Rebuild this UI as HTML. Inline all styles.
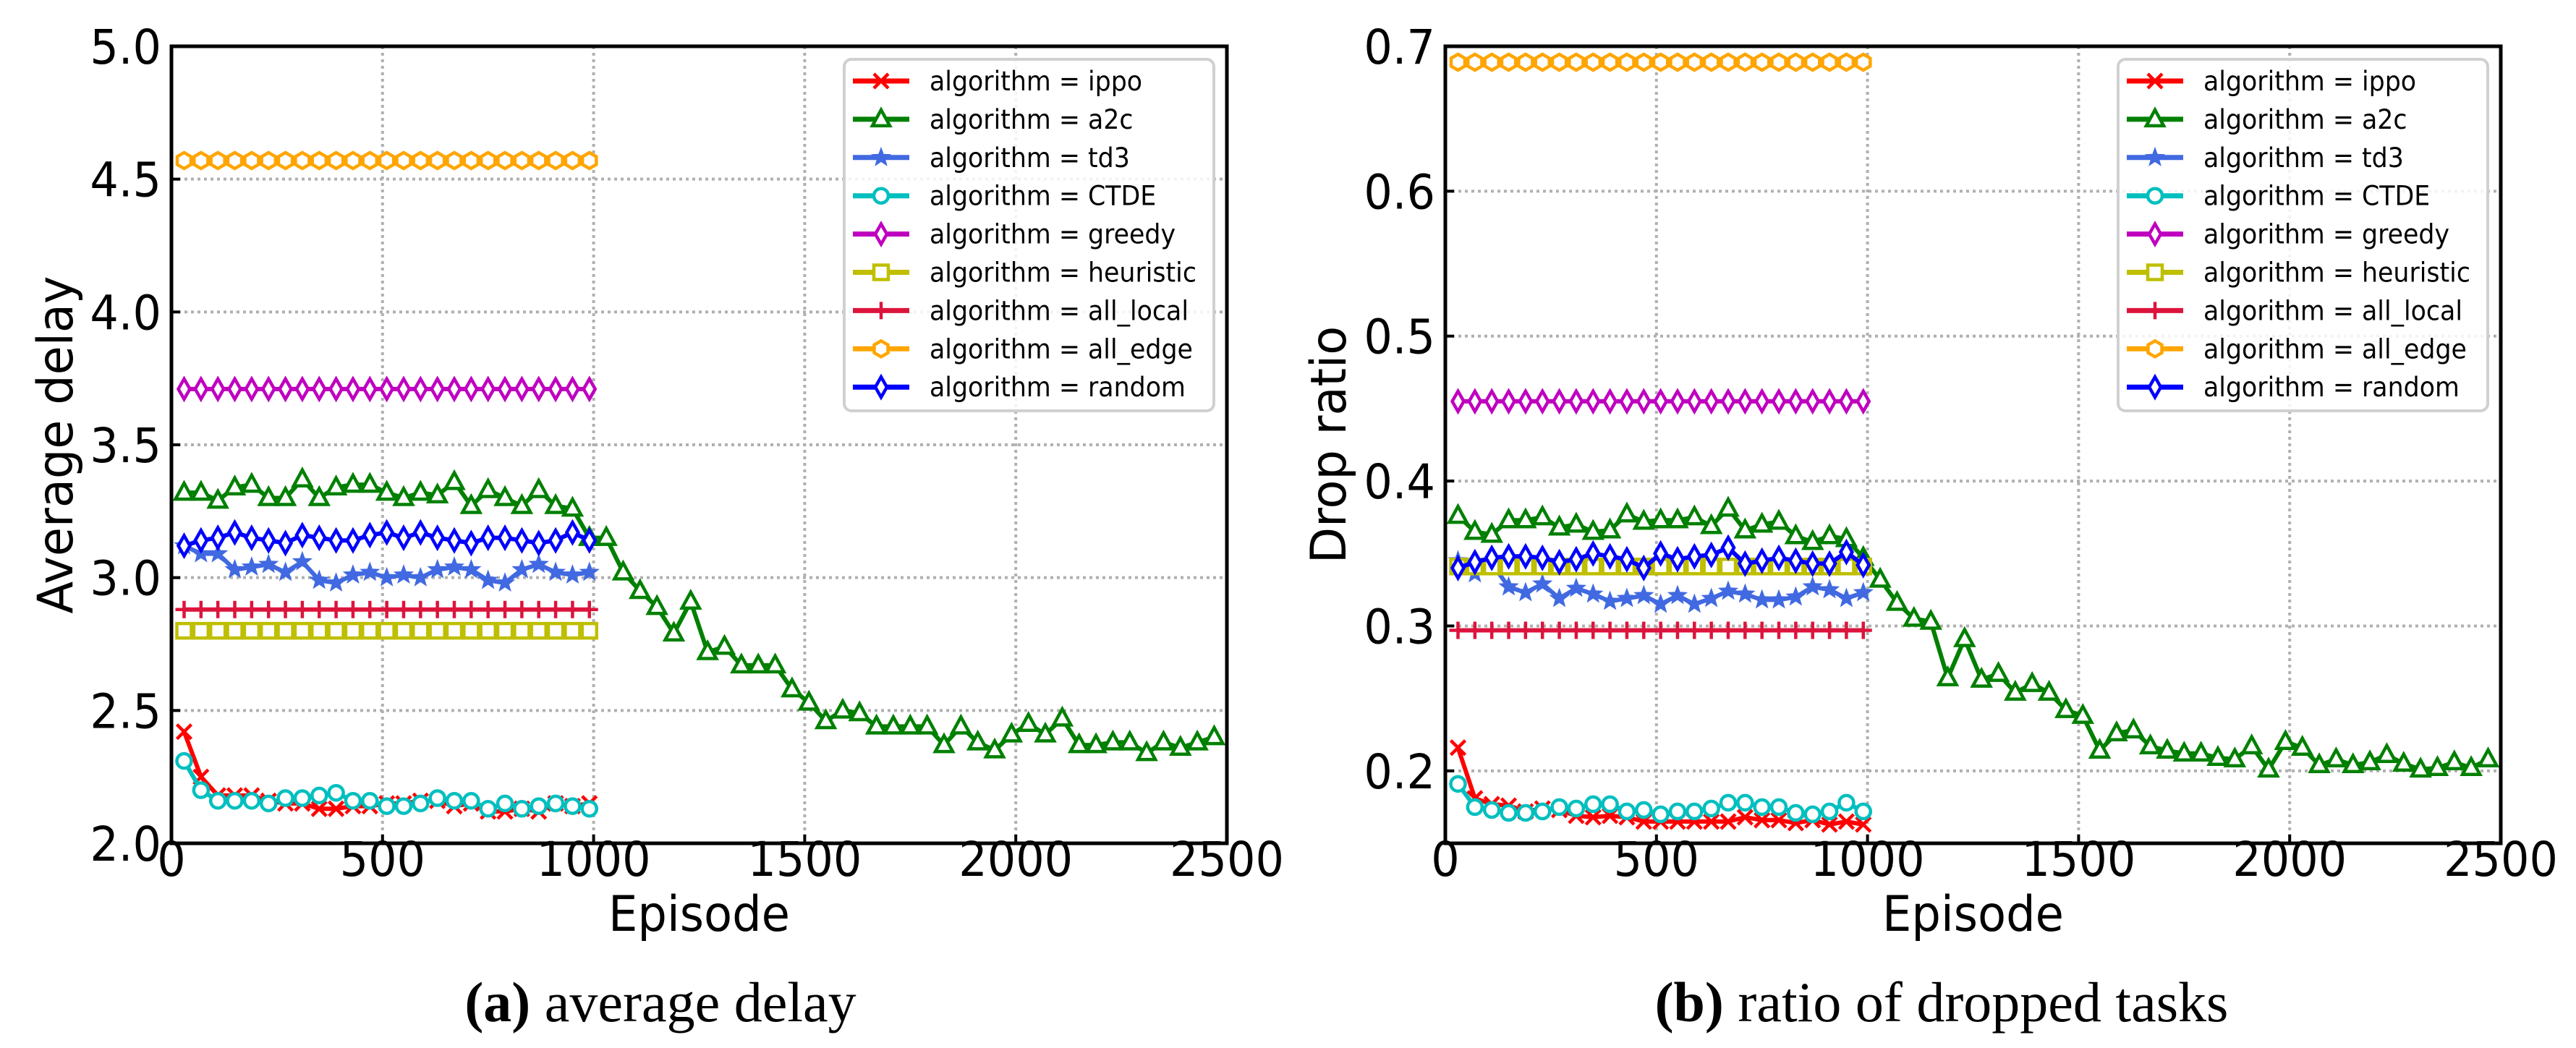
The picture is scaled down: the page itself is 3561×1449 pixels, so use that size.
<!DOCTYPE html>
<html><head><meta charset="utf-8">
<style>
html,body{margin:0;padding:0;background:#fff;}
svg{display:block;}
</style></head>
<body>
<svg id="fig" xmlns="http://www.w3.org/2000/svg" width="3561" height="1449" viewBox="0 0 3561 1449">
<rect x="0" y="0" width="3561" height="1449" fill="#fff"/>
<text x="913" y="1412" text-anchor="middle" font-family="Liberation Serif, serif" font-size="78"><tspan font-weight="bold">(a)</tspan> average delay</text>
<text x="2684" y="1412" text-anchor="middle" font-family="Liberation Serif, serif" font-size="78"><tspan font-weight="bold">(b)</tspan> ratio of dropped tasks</text>
</svg>
<script>
const episodesLong = [30,70,110,150,190,230,270,310,350,390,430,470,510,550,590,630,670,710,750,790,830,870,910,950,990,1030,1070,1110,1150,1190,1230,1270,1310,1350,1390,1430,1470,1510,1550,1590,1630,1670,1710,1750,1790,1830,1870,1910,1950,1990,2030,2070,2110,2150,2190,2230,2270,2310,2350,2390,2430,2470];
const episodesShort = [30,70,110,150,190,230,270,310,350,390,430,470,510,550,590,630,670,710,750,790,830,870,910,950,990];
const seriesNames = ['ippo','a2c','td3','CTDE','greedy','heuristic','all_local','all_edge','random'];

const delayIppo = [2.42,2.25,2.18,2.18,2.18,2.16,2.15,2.15,2.13,2.13,2.14,2.14,2.15,2.15,2.16,2.16,2.14,2.15,2.12,2.12,2.13,2.12,2.15,2.14,2.15];
const delayA2c = [3.32,3.32,3.29,3.34,3.35,3.30,3.30,3.37,3.30,3.34,3.35,3.35,3.32,3.30,3.32,3.31,3.36,3.27,3.33,3.30,3.27,3.33,3.27,3.26,3.15,3.15,3.02,2.95,2.89,2.79,2.91,2.72,2.74,2.67,2.67,2.67,2.58,2.53,2.46,2.50,2.49,2.44,2.44,2.44,2.44,2.37,2.44,2.38,2.35,2.41,2.45,2.41,2.47,2.37,2.37,2.38,2.38,2.34,2.38,2.36,2.38,2.40];
const delayTd3 = [3.12,3.09,3.09,3.03,3.04,3.05,3.02,3.06,2.99,2.98,3.01,3.02,3.00,3.01,3.00,3.03,3.04,3.03,2.99,2.98,3.03,3.05,3.02,3.01,3.02];
const delayCtde = [2.31,2.20,2.16,2.16,2.16,2.15,2.17,2.17,2.18,2.19,2.16,2.16,2.14,2.14,2.15,2.17,2.16,2.16,2.13,2.15,2.13,2.14,2.15,2.14,2.13];
const delayGreedy = [3.71,3.71,3.71,3.71,3.71,3.71,3.71,3.71,3.71,3.71,3.71,3.71,3.71,3.71,3.71,3.71,3.71,3.71,3.71,3.71,3.71,3.71,3.71,3.71,3.71];
const delayHeuristic = [2.80,2.80,2.80,2.80,2.80,2.80,2.80,2.80,2.80,2.80,2.80,2.80,2.80,2.80,2.80,2.80,2.80,2.80,2.80,2.80,2.80,2.80,2.80,2.80,2.80];
const delayLocal = [2.88,2.88,2.88,2.88,2.88,2.88,2.88,2.88,2.88,2.88,2.88,2.88,2.88,2.88,2.88,2.88,2.88,2.88,2.88,2.88,2.88,2.88,2.88,2.88,2.88];
const delayEdge = [4.57,4.57,4.57,4.57,4.57,4.57,4.57,4.57,4.57,4.57,4.57,4.57,4.57,4.57,4.57,4.57,4.57,4.57,4.57,4.57,4.57,4.57,4.57,4.57,4.57];
const delayRandom = [3.12,3.14,3.15,3.17,3.15,3.14,3.13,3.16,3.15,3.14,3.14,3.16,3.17,3.15,3.17,3.15,3.14,3.13,3.15,3.15,3.14,3.13,3.14,3.17,3.14];

const dropIppo = [0.216,0.181,0.177,0.176,0.172,0.174,0.173,0.169,0.168,0.169,0.168,0.165,0.165,0.165,0.165,0.165,0.165,0.168,0.166,0.166,0.164,0.166,0.163,0.165,0.163];
const dropA2c = [0.376,0.365,0.363,0.373,0.373,0.375,0.368,0.370,0.365,0.366,0.377,0.372,0.373,0.373,0.375,0.369,0.381,0.366,0.370,0.372,0.362,0.358,0.362,0.360,0.347,0.332,0.316,0.305,0.303,0.264,0.291,0.263,0.267,0.254,0.260,0.254,0.242,0.238,0.214,0.226,0.228,0.217,0.214,0.212,0.212,0.209,0.208,0.217,0.201,0.220,0.216,0.204,0.208,0.204,0.206,0.211,0.205,0.201,0.202,0.206,0.202,0.208];
const dropTd3 = [0.345,0.336,0.343,0.327,0.323,0.329,0.319,0.326,0.322,0.317,0.319,0.321,0.315,0.321,0.315,0.319,0.324,0.322,0.318,0.318,0.320,0.327,0.325,0.319,0.323];
const dropCtde = [0.191,0.175,0.173,0.171,0.171,0.172,0.175,0.174,0.177,0.177,0.172,0.173,0.170,0.172,0.172,0.174,0.178,0.178,0.175,0.175,0.171,0.170,0.172,0.178,0.172];
const dropGreedy = [0.455,0.455,0.455,0.455,0.455,0.455,0.455,0.455,0.455,0.455,0.455,0.455,0.455,0.455,0.455,0.455,0.455,0.455,0.455,0.455,0.455,0.455,0.455,0.455,0.455];
const dropHeuristic = [0.341,0.341,0.341,0.341,0.341,0.341,0.341,0.341,0.341,0.341,0.341,0.341,0.341,0.341,0.341,0.341,0.341,0.341,0.341,0.341,0.341,0.341,0.341,0.341,0.341];
const dropLocal = [0.297,0.297,0.297,0.297,0.297,0.297,0.297,0.297,0.297,0.297,0.297,0.297,0.297,0.297,0.297,0.297,0.297,0.297,0.297,0.297,0.297,0.297,0.297,0.297,0.297];
const dropEdge = [0.689,0.689,0.689,0.689,0.689,0.689,0.689,0.689,0.689,0.689,0.689,0.689,0.689,0.689,0.689,0.689,0.689,0.689,0.689,0.689,0.689,0.689,0.689,0.689,0.689];
const dropRandom = [0.340,0.344,0.347,0.348,0.348,0.347,0.344,0.346,0.350,0.348,0.346,0.340,0.350,0.346,0.348,0.349,0.354,0.343,0.345,0.347,0.345,0.343,0.343,0.351,0.342];

const xTicks = [0,500,1000,1500,2000,2500];
const delayTicks = [2.0,2.5,3.0,3.5,4.0,4.5,5.0];
const dropTicks = [0.2,0.3,0.4,0.5,0.6,0.7];

const NS='http://www.w3.org/2000/svg';
const svg=document.getElementById('fig');
const colors={ippo:'#ff0000',a2c:'#008000',td3:'#4169e1',CTDE:'#00bfbf',greedy:'#bf00bf',heuristic:'#bfbf00',all_local:'#dc143c',all_edge:'#ffa500',random:'#0000ff'};
function mk(tag,attrs,parent){const e=document.createElementNS(NS,tag);for(const k in attrs)e.setAttribute(k,attrs[k]);(parent||svg).appendChild(e);return e;}

function marker(g,name,x,y,c){
  const sw=4.5;
  let e;
  if(name==='ippo'){e=mk('path',{d:`M${x-10} ${y-10}L${x+10} ${y+10}M${x-10} ${y+10}L${x+10} ${y-10}`,stroke:c,'stroke-width':sw,fill:'none'},g);}
  else if(name==='a2c'){e=mk('path',{d:`M${x} ${y-13}L${x+12} ${y+9}L${x-12} ${y+9}Z`,stroke:c,'stroke-width':sw,fill:'#fff'},g);}
  else if(name==='td3'){let p='';for(let i=0;i<10;i++){const r=i%2?5:12;const a=-Math.PI/2+i*Math.PI/5;p+=(i?'L':'M')+(x+r*Math.cos(a)).toFixed(1)+' '+(y+r*Math.sin(a)).toFixed(1);}e=mk('path',{d:p+'Z',stroke:c,'stroke-width':2,fill:c},g);}
  else if(name==='CTDE'){e=mk('circle',{cx:x,cy:y,r:10,stroke:c,'stroke-width':sw,fill:'#fff'},g);}
  else if(name==='greedy'||name==='random'){e=mk('path',{d:`M${x} ${y-14}L${x+8} ${y}L${x} ${y+14}L${x-8} ${y}Z`,stroke:c,'stroke-width':sw,fill:'#fff'},g);}
  else if(name==='heuristic'){e=mk('rect',{x:x-10,y:y-10,width:20,height:20,stroke:c,'stroke-width':sw,fill:'#fff'},g);}
  else if(name==='all_local'){e=mk('path',{d:`M${x-12} ${y}L${x+12} ${y}M${x} ${y-12}L${x} ${y+12}`,stroke:c,'stroke-width':sw,fill:'none'},g);}
  else if(name==='all_edge'){let p='';for(let i=0;i<6;i++){const a=-Math.PI/2+i*Math.PI/3;p+=(i?'L':'M')+(x+11*Math.cos(a)).toFixed(1)+' '+(y+11*Math.sin(a)).toFixed(1);}e=mk('path',{d:p+'Z',stroke:c,'stroke-width':sw,fill:'#fff'},g);}
  
  
}

function drawPanel(opt){
  const L=opt.left,R=opt.left+1459,T=64,B=1166;
  const xs=v=>L+(v-0)/2500*(R-L);
  const ys=v=>B-(v-opt.ymin)/(opt.ymax-opt.ymin)*(B-T);
  const g=mk('g',{});
  
  
  xTicks.forEach(t=>{if(t>0&&t<2500){const l=mk('line',{x1:xs(t),x2:xs(t),y1:T,y2:B,stroke:'#b0b0b0','stroke-width':4,'stroke-dasharray':'4 5'},g);}});
  opt.yTicks.forEach(t=>{if(t>opt.ymin&&t<opt.ymax){const l=mk('line',{x1:L,x2:R,y1:ys(t),y2:ys(t),stroke:'#b0b0b0','stroke-width':4,'stroke-dasharray':'4 5'},g);}});
  const order=['ippo','a2c','td3','CTDE','greedy','heuristic','all_local','all_edge','random'];
  order.forEach(n=>{
    const vals=opt.data[n];
    const xsArr=vals.length===episodesLong.length?episodesLong:episodesShort;
    const sg=mk('g',{},g);
    
    
    const d=vals.map((v,i)=>(i?'L':'M')+xs(xsArr[i]).toFixed(1)+' '+ys(v).toFixed(1)).join('');
    const p=mk('path',{d:d,stroke:colors[n],'stroke-width':6,fill:'none','stroke-linejoin':'round'},sg);
    
    
    vals.forEach((v,i)=>marker(sg,n,xs(xsArr[i]),ys(v),colors[n]));
  });
  const fr=mk('rect',{x:L,y:T,width:R-L,height:B-T,fill:'none',stroke:'#000','stroke-width':5},g);
  
  
  xTicks.forEach(t=>{
    const tk=mk('line',{x1:xs(t),x2:xs(t),y1:B,y2:B-12,stroke:'#000','stroke-width':4},g);
    
    
    const tx=mk('text',{x:0,y:0,'text-anchor':'middle','font-family':'DejaVu Sans, sans-serif','font-size':66,transform:`translate(${xs(t)},1211) scale(0.94,1)`},g);
    tx.textContent=t;
    
    
  });
  opt.yTicks.forEach(t=>{
    const tk=mk('line',{x1:L,x2:L+12,y1:ys(t),y2:ys(t),stroke:'#000','stroke-width':4},g);
    
    
    const tx=mk('text',{x:0,y:0,'text-anchor':'end','font-family':'DejaVu Sans, sans-serif','font-size':66,transform:`translate(${L-14},${ys(t)+24}) scale(0.94,1)`},g);
    tx.textContent=t.toFixed(1);
    
    
  });
  const xl=mk('text',{x:0,y:0,'text-anchor':'middle','font-family':'DejaVu Sans, sans-serif','font-size':68,transform:`translate(${(L+R)/2},1287) scale(0.94,1)`},g);
  xl.textContent='Episode';
  
  
  const yl=mk('text',{x:0,y:0,'text-anchor':'middle','font-family':'DejaVu Sans, sans-serif','font-size':68,transform:`translate(${opt.ylabX},${(T+B)/2}) rotate(-90) scale(0.96,1)`},g);
  yl.textContent=opt.ylabel;
  
  
  const lw=511, lx=R-18-lw, ly=82;
  const lg=mk('g',{},g);
  
  
  mk('rect',{x:lx,y:ly,width:lw,height:486,rx:10,fill:'#fff','fill-opacity':0.85,stroke:'#d0d0d0','stroke-width':4},lg);
  order.forEach((n,i)=>{
    const y=ly+30+i*52.9;
    const eg=mk('g',{},lg);
    
    
    mk('line',{x1:lx+12,x2:lx+90,y1:y,y2:y,stroke:colors[n],'stroke-width':7},eg);
    marker(eg,n,lx+51,y,colors[n]);
    const t=mk('text',{x:0,y:0,'font-family':'DejaVu Sans, sans-serif','font-size':37,transform:`translate(${lx+118},${y+13}) scale(0.94,1)`},eg);
    t.textContent='algorithm = '+n;
  });
}

drawPanel({name:'delay-chart',left:237,ymin:2.0,ymax:5.0,yTicks:delayTicks,ylabel:'Average delay',ylabX:100,
  data:{ippo:delayIppo,a2c:delayA2c,td3:delayTd3,CTDE:delayCtde,greedy:delayGreedy,heuristic:delayHeuristic,all_local:delayLocal,all_edge:delayEdge,random:delayRandom}});
drawPanel({name:'drop-ratio-chart',left:1998,ymin:0.15,ymax:0.7,yTicks:dropTicks,ylabel:'Drop ratio',ylabX:1860,
  data:{ippo:dropIppo,a2c:dropA2c,td3:dropTd3,CTDE:dropCtde,greedy:dropGreedy,heuristic:dropHeuristic,all_local:dropLocal,all_edge:dropEdge,random:dropRandom}});
</script>
</body></html>
